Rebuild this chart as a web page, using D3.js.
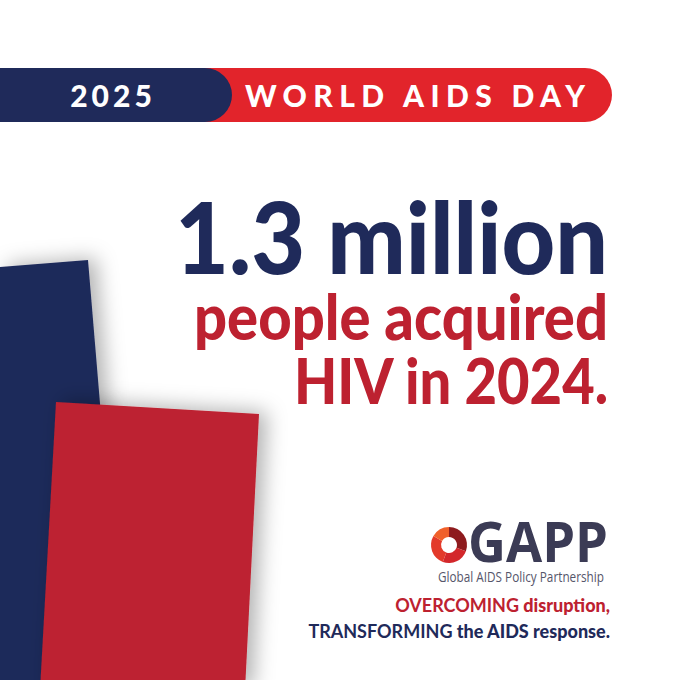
<!DOCTYPE html>
<html lang="en">
<head>
<meta charset="UTF-8">
<title>World AIDS Day 2025</title>
<script src="https://cdn.jsdelivr.net/npm/d3@7"></script>
<style>
body{margin:0;background:#fff;}
svg{display:block;}
</style>
</head>
<body>
<script>
var width = 680, height = 680;
var navy = "#1f2a5a", red = "#bd2130", bannerRed = "#e2242b";

// texts
var bannerLeft = "2025";
var bannerRight = "WORLD AIDS DAY";
var headline = ["1.3 million", "people acquired", "HIV in 2024."];
var headColors = [navy, red, red];
var headSizes = [100, 62, 62];
var headBaselines = [274, 340, 404];
var headStarts = [175, 194, 294];
var tagline = ["OVERCOMING", " disruption,", "TRANSFORMING", " the AIDS response."];
var logoText = "GAPP";
var logoSub = "Global AIDS Policy Partnership";

// decorative panels (polygons)
var navyPanel = [[0,267],[88,260],[124,690],[0,690]];
var redPanel = [[56,402],[259,414],[245,690],[40,690]];

// logo ring segments: start/end angle (degrees) and colour
var ringSegs = [
  {a0: 0, a1: 110, c: "#8e1b1e"},
  {a0: 110, a1: 200, c: "#d3272b"},
  {a0: 200, a1: 300, c: "#e33a2a"},
  {a0: 300, a1: 360, c: "#f0602a"}
];

var svg = d3.select("body").append("svg").attr("width", width).attr("height", height);

var defs = svg.append("defs");
var f = defs.append("filter").attr("id", "shadow").attr("x", "-30%").attr("y", "-30%").attr("width", "160%").attr("height", "160%");
f.append("feDropShadow").attr("dx", 8).attr("dy", -2).attr("stdDeviation", 10)
  .attr("flood-color", "#000").attr("flood-opacity", 0.3);

// panels
var line = d3.line();
svg.append("path").attr("d", line(navyPanel) + "Z").attr("fill", navy).attr("filter", "url(#shadow)");
svg.append("path").attr("d", line(redPanel) + "Z").attr("fill", red).attr("filter", "url(#shadow)");

// banner
var band = svg.append("g").attr("transform", "translate(0,68)");
band.append("rect").attr("x", 180).attr("y", 0).attr("width", 432).attr("height", 54).attr("rx", 27).attr("fill", bannerRed);
band.append("rect").attr("x", -40).attr("y", 0).attr("width", 272).attr("height", 54).attr("rx", 27).attr("fill", navy);
band.append("text").attr("x", 113).attr("y", 39).attr("text-anchor", "middle")
  .attr("font-family", "Lato, 'DejaVu Sans', sans-serif").attr("font-weight", 900)
  .attr("font-size", 30).attr("letter-spacing", 4).attr("fill", "#fff").text(bannerLeft);
band.append("text").attr("x", 245).attr("y", 39)
  .attr("textLength", 340).attr("lengthAdjust", "spacing")
  .attr("font-family", "Lato, 'DejaVu Sans', sans-serif").attr("font-weight", 900)
  .attr("font-size", 30).attr("fill", "#fff").text(bannerRight);

// headline
svg.selectAll(".head").data(headline).enter().append("text").attr("class", "head")
  .attr("x", function(d, i){ return headStarts[i]; })
  .attr("y", function(d, i){ return headBaselines[i]; })
  .attr("textLength", function(d, i){ return 608 - headStarts[i]; })
  .attr("lengthAdjust", "spacingAndGlyphs")
  .attr("font-family", "Lato, 'DejaVu Sans', sans-serif").attr("font-weight", 900)
  .attr("font-size", function(d, i){ return headSizes[i]; })
  .attr("fill", function(d, i){ return headColors[i]; })
  .text(function(d){ return d; });

// logo
var ring = d3.arc().innerRadius(8).outerRadius(18);
svg.append("g").attr("transform", "translate(449,545)")
  .selectAll("path").data(ringSegs).enter().append("path")
  .attr("d", function(d){ return ring({startAngle: d.a0 * Math.PI / 180, endAngle: d.a1 * Math.PI / 180}); })
  .attr("fill", function(d){ return d.c; });
svg.append("text").attr("x", 468).attr("y", 562).attr("textLength", 140).attr("lengthAdjust", "spacingAndGlyphs")
  .attr("font-family", "'Open Sans', 'DejaVu Sans', sans-serif").attr("font-weight", "bold")
  .attr("font-size", 55).attr("fill", "#3b3b55").text(logoText);
svg.append("text").attr("x", 438).attr("y", 582).attr("textLength", 166).attr("lengthAdjust", "spacingAndGlyphs")
  .attr("font-family", "'Open Sans', sans-serif").attr("font-size", 14).attr("fill", "#55556a").text(logoSub);

// tagline
var tl = svg.append("g").attr("font-family", "Lato, 'DejaVu Sans', sans-serif").attr("font-weight", 900).attr("font-size", 18);
var t1 = tl.append("text").attr("x", 610).attr("y", 612).attr("text-anchor", "end").attr("fill", red);
t1.append("tspan").text(tagline[0]).attr("font-weight", 700);
t1.append("tspan").text(tagline[1]);
var t2 = tl.append("text").attr("x", 610).attr("y", 638).attr("text-anchor", "end").attr("fill", navy);
t2.append("tspan").text(tagline[2]).attr("font-weight", 700);
t2.append("tspan").text(tagline[3]);
</script>
</body>
</html>
